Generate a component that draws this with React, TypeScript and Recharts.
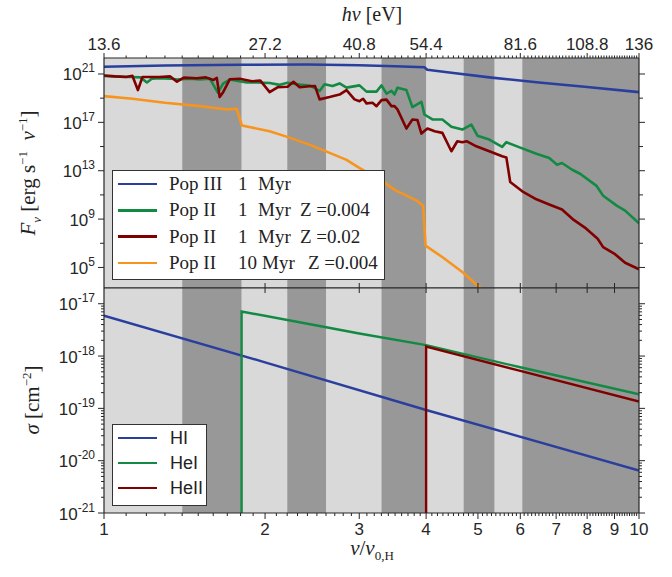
import React from 'react';
import { LineChart, Line, XAxis, YAxis, ReferenceArea } from 'recharts';

// ---------- data (x = nu / nu_0,H) ----------
// Top panel: [nu, log10 F_nu]
const popIII_1Myr: [number, number][] = [
  [1.0, 21.6], [1.3, 21.7], [1.8, 21.76], [2.4, 21.78], [3.0, 21.72], [3.5, 21.64], [3.97, 21.56],
  [4.02, 21.35], [4.5, 21.08], [5.3, 20.7], [6.5, 20.3], [8.0, 19.92], [10.0, 19.5],
];
const popII_1Myr_Z0004: [number, number][] = [
  [1.0, 20.83], [1.07, 20.78], [1.12, 20.75], [1.17, 20.72], [1.203, 20.3], [1.23, 20.62], [1.27, 20.65],
  [1.33, 20.62], [1.37, 20.55], [1.45, 20.6], [1.51, 20.55], [1.577, 20.62], [1.632, 19.45], [1.67, 20.2],
  [1.72, 20.55], [1.79, 20.4], [1.85, 20.3], [1.93, 20.3], [2.04, 20.25], [2.13, 20.1], [2.204, 20.28],
  [2.321, 20.12], [2.423, 20.05], [2.529, 19.6], [2.584, 20.15], [2.674, 20.0], [2.756, 20.22], [2.84, 19.87],
  [3.003, 20.06], [3.095, 19.54], [3.231, 19.54], [3.302, 20.06], [3.373, 19.37], [3.446, 19.6], [3.491, 19.3],
  [3.536, 19.87], [3.675, 19.67], [3.771, 18.26], [3.92, 18.7], [3.971, 17.65], [4.11, 17.24], [4.29, 17.24],
  [4.46, 16.63], [4.675, 16.4], [4.86, 16.82], [4.99, 15.9], [5.25, 15.58], [5.55, 14.97], [5.65, 15.36],
  [6.05, 14.85], [6.43, 14.4], [6.795, 14.05], [7.03, 13.5], [7.18, 13.64], [7.5, 13.08], [7.76, 12.75],
  [8.32, 11.77], [8.57, 10.93], [9.1, 10.09], [9.42, 9.7], [10.0, 8.65],
];
const popII_1Myr_Z002: [number, number][] = [
  [1.0, 20.88], [1.05, 20.8], [1.1, 20.75], [1.13, 20.85], [1.157, 19.67], [1.18, 20.75], [1.27, 20.75],
  [1.33, 20.8], [1.369, 20.36], [1.41, 20.7], [1.49, 20.65], [1.55, 20.72], [1.6, 20.5], [1.625, 20.68],
  [1.645, 19.09], [1.67, 19.5], [1.718, 20.56], [1.794, 20.6], [1.89, 20.4], [1.96, 20.45], [2.04, 19.5],
  [2.11, 19.9], [2.204, 19.95], [2.26, 20.35], [2.321, 19.9], [2.423, 19.98], [2.48, 20.0], [2.529, 18.9],
  [2.64, 19.09], [2.756, 19.3], [2.84, 19.67], [2.939, 18.9], [3.003, 18.75], [3.05, 18.95], [3.095, 18.57],
  [3.176, 18.62], [3.231, 18.34], [3.302, 18.84], [3.373, 18.88], [3.446, 18.34], [3.491, 18.34], [3.536, 18.07],
  [3.675, 16.49], [3.771, 17.24], [3.853, 17.2], [3.92, 16.07], [4.023, 16.49], [4.15, 16.27], [4.29, 16.13],
  [4.46, 14.61], [4.575, 15.44], [4.675, 15.35], [4.76, 15.44], [4.965, 15.02], [5.25, 14.61], [5.55, 14.19],
  [5.65, 14.1], [5.745, 12.06], [6.05, 11.3], [6.43, 10.64], [6.795, 10.21], [7.18, 9.79], [7.55, 8.93],
  [7.96, 8.23], [8.37, 7.38], [8.57, 6.68], [9.02, 6.1], [9.42, 5.39], [10.0, 4.85],
];
const popII_10Myr_Z0004: [number, number][] = [
  [1.0, 19.17], [1.13, 18.95], [1.3, 18.62], [1.51, 18.34], [1.7, 18.07], [1.77, 18.12], [1.81, 16.74],
  [2.04, 16.27], [2.2, 15.8], [2.42, 15.16], [2.6, 14.6], [2.84, 13.9], [3.0, 13.23], [3.3, 12.2],
  [3.5, 11.4], [3.85, 10.5], [3.95, 10.1], [3.99, 6.8], [4.3, 5.82], [4.7, 4.54], [5.2, 2.8],
];

// Bottom panel: [nu, sigma (cm^-2)]
const sigmaHI: [number, number][] = [[1, 5.9e-18], [2, 7.6e-19], [4, 9.3e-20], [10, 6.5e-21]];
const sigmaHeI: [number, number][] = [
  [1.808, 1e-21], [1.808, 7.1e-18], [2.5, 3.84e-18], [3, 2.7e-18], [4, 1.62e-18], [6, 6.1e-19], [10, 1.86e-19],
];
const sigmaHeII: [number, number][] = [[4, 1e-21], [4, 1.52e-18], [6, 5.2e-19], [10, 1.35e-19]];

// frequency bands (shaded)
const lightBands: [number, number][] = [[1, 1.4], [1.808, 2.2], [2.6, 3.3], [4.0, 4.7], [5.37, 6.05]];
const darkBands: [number, number][] = [[1.4, 1.808], [2.2, 2.6], [3.3, 4.0], [4.7, 5.37], [6.05, 10]];

// ticks
const nuMajor = [1, 2, 3, 4, 5, 6, 7, 8, 9, 10];
const nuInner = [2, 3, 4, 5, 6, 7, 8, 9];
const hvTickNu = [1, 2, 3, 4, 6, 8, 10];
const hvTickLabels = ['13.6', '27.2', '40.8', '54.4', '81.6', '108.8', '136'];
const fluxTickExp = [5, 7, 9, 11, 13, 15, 17, 19, 21];
const fluxLabelExp = [5, 9, 13, 17, 21];
const sigmaExp = [-21, -20, -19, -18, -17];

const series = [
  { name: 'Pop III 1 Myr', label: ['Pop III', '1', 'Myr', ''], color: '#2a3f9d', data: popIII_1Myr },
  { name: 'Pop II 1 Myr Z=0.004', label: ['Pop II', '1', 'Myr', 'Z =0.004'], color: '#138a43', data: popII_1Myr_Z0004 },
  { name: 'Pop II 1 Myr Z=0.02', label: ['Pop II', '1', 'Myr', 'Z =0.02'], color: '#800000', data: popII_1Myr_Z002 },
  { name: 'Pop II 10 Myr Z=0.004', label: ['Pop II', '10', 'Myr', 'Z =0.004'], color: '#f7941d', data: popII_10Myr_Z0004 },
];
const xsSeries = [
  { name: 'HI', color: '#2a3f9d', data: sigmaHI },
  { name: 'HeI', color: '#138a43', data: sigmaHeI },
  { name: 'HeII', color: '#800000', data: sigmaHeII },
];

// ---------- helpers ----------
const SANS = '"Liberation Sans", Arial, sans-serif';
const SERIF = '"Liberation Serif", "DejaVu Serif", serif';
const AX = '#262626';
const LIGHT = '#d9d9d9';
const DARK = '#989898';

const minorNu: number[] = [];
for (let i = 0; i <= 90; i++) minorNu.push(Math.round((1 + i * 0.1) * 10) / 10);
const sigmaTicks: number[] = [];
for (let n = -21; n <= -18; n++) for (let k = 1; k <= 9; k++) sigmaTicks.push(k * Math.pow(10, n));
sigmaTicks.push(1e-17);

const near = (a: number, b: number) => Math.abs(a - b) < 1e-6;
const logPts = (s: [number, number][]) => s.map(([x, e]) => ({ x, y: Math.pow(10, e) }));
const linPts = (s: [number, number][]) => s.map(([x, y]) => ({ x, y }));
const isDecade = (v: number) => near(Math.log10(v), Math.round(Math.log10(v)));

const TopEvTick = (p: any) => {
  const { x, y, payload } = p;
  const idx = hvTickNu.findIndex((a) => near(a, payload.value));
  const major = idx >= 0;
  return (
    <g>
      <line x1={x} x2={x} y1={y} y2={y - (major ? 5 : 2.5)} stroke={AX} strokeWidth={1} />
      {major && (
        <text x={x} y={y - 8} textAnchor="middle" fontSize={17} fontFamily={SANS} fill={AX}>
          {hvTickLabels[idx]}
        </text>
      )}
    </g>
  );
};
const InnerUpTick = (p: any) => (
  <line x1={p.x} x2={p.x} y1={p.y} y2={p.y - 5} stroke={AX} strokeWidth={1} />
);
const InnerDownTick = (p: any) => (
  <line x1={p.x} x2={p.x} y1={p.y} y2={p.y + 5} stroke={AX} strokeWidth={1} />
);
const BottomNuTick = (p: any) => {
  const { x, y, payload } = p;
  const v = payload.value;
  const major = nuMajor.some((a) => near(a, v));
  return (
    <g>
      <line x1={x} x2={x} y1={y} y2={y + (major ? 6 : 3)} stroke={AX} strokeWidth={1} />
      {major && (
        <text x={x} y={y + 22} textAnchor="middle" fontSize={17} fontFamily={SANS} fill={AX}>
          {String(Math.round(v))}
        </text>
      )}
    </g>
  );
};
const PowLabel = ({ x, y, e }: { x: number; y: number; e: number }) => (
  <text x={x} y={y + 6.5} textAnchor="end" fontSize={17} fontFamily={SANS} fill={AX}>
    10
    <tspan dy={-8} fontSize={12}>
      {String(e)}
    </tspan>
  </text>
);
const FluxLeftTick = (p: any) => {
  const { x, y, payload } = p;
  const e = Math.round(Math.log10(payload.value));
  const lab = fluxLabelExp.includes(e);
  return (
    <g>
      <line x1={x} x2={x - (lab ? 6 : 4)} y1={y} y2={y} stroke={AX} strokeWidth={1} />
      {lab && <PowLabel x={x - 9} y={y} e={e} />}
    </g>
  );
};
const FluxRightTick = (p: any) => {
  const { x, y, payload } = p;
  const e = Math.round(Math.log10(payload.value));
  const lab = fluxLabelExp.includes(e);
  return <line x1={x} x2={x + (lab ? 6 : 4)} y1={y} y2={y} stroke={AX} strokeWidth={1} />;
};
const SigmaLeftTick = (p: any) => {
  const { x, y, payload } = p;
  const major = isDecade(payload.value);
  const e = Math.round(Math.log10(payload.value));
  return (
    <g>
      <line x1={x} x2={x - (major ? 6 : 3)} y1={y} y2={y} stroke={AX} strokeWidth={1} />
      {major && sigmaExp.includes(e) && <PowLabel x={x - 9} y={y} e={e} />}
    </g>
  );
};
const SigmaRightTick = (p: any) => {
  const { x, y, payload } = p;
  const major = isDecade(payload.value);
  return <line x1={x} x2={x + (major ? 6 : 3)} y1={y} y2={y} stroke={AX} strokeWidth={1} />;
};

const renderBands = (xId: string, yId: string) => [
  ...lightBands.map(([a, b], i) => (
    <ReferenceArea key={'l' + i} xAxisId={xId} yAxisId={yId} x1={a} x2={b} fill={LIGHT} fillOpacity={1} stroke="none" ifOverflow="visible" />
  )),
  ...darkBands.map(([a, b], i) => (
    <ReferenceArea key={'d' + i} xAxisId={xId} yAxisId={yId} x1={a} x2={b} fill={DARK} fillOpacity={1} stroke="none" ifOverflow="visible" />
  )),
];

const axisLine = { stroke: AX, strokeWidth: 1.2 };
const legendText = { position: 'absolute' as const, fontFamily: SERIF, fontSize: 19, color: '#222', whiteSpace: 'nowrap' as const, lineHeight: '24px' };

export default function App() {
  return (
    <div style={{ position: 'absolute', left: 0, top: 0, width: 672, height: 577, background: '#fff', overflow: 'hidden' }}>
      {/* Top panel */}
      <div style={{ position: 'absolute', left: 0, top: 0 }}>
        <LineChart width={672} height={300} margin={{ top: 0, right: 0, bottom: 0, left: 0 }}>
          <XAxis xAxisId="top" orientation="top" type="number" dataKey="x" scale="log" domain={[1, 10]} allowDataOverflow
            ticks={minorNu} interval={0} tick={<TopEvTick />} tickLine={false} tickSize={0} tickMargin={0} height={58} axisLine={axisLine} />
          <XAxis xAxisId="b" orientation="bottom" type="number" dataKey="x" scale="log" domain={[1, 10]} allowDataOverflow
            ticks={nuInner} interval={0} tick={<InnerUpTick />} tickLine={false} tickSize={0} tickMargin={0} height={12} axisLine={axisLine} />
          <YAxis yAxisId="l" orientation="left" type="number" scale="log" domain={[2e3, 2.1e22]} allowDataOverflow
            ticks={fluxTickExp.map((e) => Math.pow(10, e))} interval={0} tick={<FluxLeftTick />} tickLine={false} tickSize={0} tickMargin={0} width={104} axisLine={axisLine} />
          <YAxis yAxisId="r" orientation="right" type="number" scale="log" domain={[2e3, 2.1e22]} allowDataOverflow
            ticks={fluxTickExp.map((e) => Math.pow(10, e))} interval={0} tick={<FluxRightTick />} tickLine={false} tickSize={0} tickMargin={0} width={33} axisLine={axisLine} />
          {renderBands('b', 'l')}
          {series.map((s) => (
            <Line key={s.name} name={s.name} xAxisId="b" yAxisId="l" data={logPts(s.data)} dataKey="y" type="linear"
              stroke={s.color} strokeWidth={2.6} strokeLinejoin="round" dot={false} activeDot={false} isAnimationActive={false} />
          ))}
        </LineChart>
      </div>

      {/* Bottom panel */}
      <div style={{ position: 'absolute', left: 0, top: 276 }}>
        <LineChart width={672} height={301} margin={{ top: 0, right: 0, bottom: 0, left: 0 }}>
          <XAxis xAxisId="t" orientation="top" type="number" dataKey="x" scale="log" domain={[1, 10]} allowDataOverflow
            ticks={nuInner} interval={0} tick={<InnerDownTick />} tickLine={false} tickSize={0} tickMargin={0} height={12} axisLine={axisLine} />
          <XAxis xAxisId="b" orientation="bottom" type="number" dataKey="x" scale="log" domain={[1, 10]} allowDataOverflow
            ticks={minorNu} interval={0} tick={<BottomNuTick />} tickLine={false} tickSize={0} tickMargin={0} height={64} axisLine={axisLine} />
          <YAxis yAxisId="l" orientation="left" type="number" scale="log" domain={[1e-21, 2e-17]} allowDataOverflow
            ticks={sigmaTicks} interval={0} tick={<SigmaLeftTick />} tickLine={false} tickSize={0} tickMargin={0} width={104} axisLine={axisLine} />
          <YAxis yAxisId="r" orientation="right" type="number" scale="log" domain={[1e-21, 2e-17]} allowDataOverflow
            ticks={sigmaTicks} interval={0} tick={<SigmaRightTick />} tickLine={false} tickSize={0} tickMargin={0} width={33} axisLine={axisLine} />
          {renderBands('b', 'l')}
          {xsSeries.map((s) => (
            <Line key={s.name} name={s.name} xAxisId="b" yAxisId="l" data={linPts(s.data)} dataKey="y" type="linear"
              stroke={s.color} strokeWidth={2.4} strokeLinejoin="miter" dot={false} activeDot={false} isAnimationActive={false} />
          ))}
        </LineChart>
      </div>

      {/* Axis titles */}
      <div style={{ position: 'absolute', left: 372, top: 14, transform: 'translate(-50%,-50%)', fontFamily: SERIF, fontSize: 20, color: '#222', whiteSpace: 'nowrap' }}>
        <i>hν</i> [eV]
      </div>
      <div style={{ position: 'absolute', left: 372, top: 550, transform: 'translate(-50%,-50%)', fontFamily: SERIF, fontSize: 21, color: '#222', whiteSpace: 'nowrap' }}>
        <i>ν</i>/<i>ν</i><sub style={{ fontSize: 13 }}>0,H</sub>
      </div>
      <div style={{ position: 'absolute', left: 30, top: 173, transform: 'translate(-50%,-50%) rotate(-90deg)', fontFamily: SERIF, fontSize: 21, color: '#222', whiteSpace: 'nowrap' }}>
        <i>F</i><sub style={{ fontSize: 13 }}><i>ν</i></sub> [erg s<sup style={{ fontSize: 13 }}>−1</sup>&nbsp;&nbsp;<i>ν</i><sup style={{ fontSize: 13 }}>−1</sup>]
      </div>
      <div style={{ position: 'absolute', left: 32, top: 400, transform: 'translate(-50%,-50%) rotate(-90deg)', fontFamily: SERIF, fontSize: 21, color: '#222', whiteSpace: 'nowrap' }}>
        <i>σ</i> [cm<sup style={{ fontSize: 13 }}>−2</sup>]
      </div>

      {/* Top legend */}
      <div style={{ position: 'absolute', left: 112, top: 170, width: 273, height: 110, border: '1.2px solid #333', background: '#fff', boxSizing: 'border-box' }}>
        {series.map((s, i) => {
          const cy = 13 + i * 26.3;
          const tenMyr = s.label[1] === '10';
          return (
            <div key={s.name}>
              <div style={{ position: 'absolute', left: 5, top: cy - 1.3, width: 39, height: 2.6, background: s.color }} />
              <div style={{ ...legendText, left: 56, top: cy - 12 }}>{s.label[0]}</div>
              <div style={{ ...legendText, left: 125, top: cy - 12 }}>{s.label[1]}</div>
              <div style={{ ...legendText, left: tenMyr ? 149 : 145, top: cy - 12 }}>{s.label[2]}</div>
              <div style={{ ...legendText, left: tenMyr ? 195 : 187, top: cy - 12 }}>{s.label[3]}</div>
            </div>
          );
        })}
      </div>

      {/* Bottom legend */}
      <div style={{ position: 'absolute', left: 112, top: 424, width: 95, height: 82, border: '1.2px solid #333', background: '#fff', boxSizing: 'border-box' }}>
        {xsSeries.map((s, i) => {
          const cy = 13 + i * 25;
          return (
            <div key={s.name}>
              <div style={{ position: 'absolute', left: 5, top: cy - 1.3, width: 39, height: 2.6, background: s.color }} />
              <div style={{ position: 'absolute', left: 57, top: cy - 12, fontFamily: SANS, fontSize: 18, color: '#222', whiteSpace: 'nowrap', lineHeight: '24px' }}>{s.name}</div>
            </div>
          );
        })}
      </div>
    </div>
  );
}
